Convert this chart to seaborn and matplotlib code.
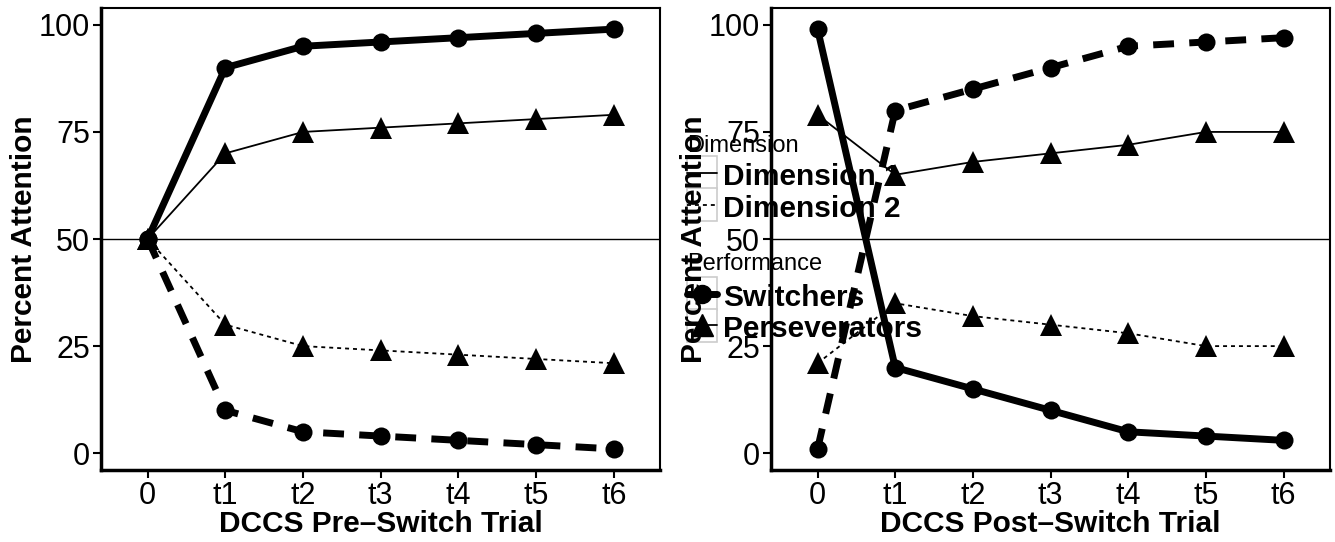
import numpy as np
import pandas as pd
import matplotlib.pyplot as plt
import seaborn as sns
from matplotlib.lines import Line2D
from matplotlib.patches import Rectangle

# data
trials = ['0', 't1', 't2', 't3', 't4', 't5', 't6']

pre_switch_d1 = [50, 90, 95, 96, 97, 98, 99]
pre_switch_d2 = [50, 10, 5, 4, 3, 2, 1]
pre_persev_d1 = [50, 70, 75, 76, 77, 78, 79]
pre_persev_d2 = [50, 30, 25, 24, 23, 22, 21]

post_switch_d1 = [99, 20, 15, 10, 5, 4, 3]
post_switch_d2 = [1, 80, 85, 90, 95, 96, 97]
post_persev_d1 = [79, 65, 68, 70, 72, 75, 75]
post_persev_d2 = [21, 35, 32, 30, 28, 25, 25]

series = {
    ('pre', 'Perseverators', 'Dimension 1'): pre_persev_d1,
    ('pre', 'Perseverators', 'Dimension 2'): pre_persev_d2,
    ('pre', 'Switchers', 'Dimension 1'): pre_switch_d1,
    ('pre', 'Switchers', 'Dimension 2'): pre_switch_d2,
    ('post', 'Perseverators', 'Dimension 1'): post_persev_d1,
    ('post', 'Perseverators', 'Dimension 2'): post_persev_d2,
    ('post', 'Switchers', 'Dimension 1'): post_switch_d1,
    ('post', 'Switchers', 'Dimension 2'): post_switch_d2,
}
rows = []
for (phase, perf, dim), vals in series.items():
    for t, v in zip(trials, vals):
        rows.append({'phase': phase, 'performance': perf, 'dimension': dim,
                     'trial': t, 'pct': v})
df = pd.DataFrame(rows)

# styles
perf_style = {
    'Switchers': dict(marker='o', markersize=13, linewidth=5),
    'Perseverators': dict(marker='^', markersize=16.5, linewidth=1.3),
}
dash_style = {
    ('Switchers', 'Dimension 1'): '-',
    ('Switchers', 'Dimension 2'): (0, (3, 2.2)),
    ('Perseverators', 'Dimension 1'): '-',
    ('Perseverators', 'Dimension 2'): (0, (2.2, 2.2)),
}

sns.set_style('white')
plt.rcParams['font.family'] = ['Liberation Sans', 'DejaVu Sans']
plt.rcParams['text.color'] = 'black'
plt.rcParams['axes.labelcolor'] = 'black'

fig = plt.figure(figsize=(13.35, 5.42), dpi=100)
ax1 = fig.add_axes([0.0757, 0.133, 0.419, 0.852])
ax2 = fig.add_axes([0.5775, 0.133, 0.419, 0.852])

for ax, phase, xlab in [(ax1, 'pre', 'DCCS Pre\u2013Switch Trial'),
                        (ax2, 'post', 'DCCS Post\u2013Switch Trial')]:
    ax.axhline(50, color='black', lw=1, zorder=1)
    sub_phase = df[df['phase'] == phase]
    for (perf, dim), sub in sub_phase.groupby(['performance', 'dimension'], sort=False):
        sns.lineplot(data=sub, x='trial', y='pct', ax=ax, color='black',
                     sort=False, errorbar=None, legend=False,
                     linestyle=dash_style[(perf, dim)],
                     markeredgecolor='black', markeredgewidth=0,
                     dash_capstyle='butt', solid_capstyle='butt',
                     **perf_style[perf])
    ax.set_xlim(-0.6, 6.6)
    ax.set_ylim(-3.9, 103.9)
    ax.set_yticks([0, 25, 50, 75, 100])
    ax.tick_params(bottom=True, left=True, direction='out', length=6, width=1.5,
                   labelsize=22, colors='black', pad=2)
    for side, sp in ax.spines.items():
        sp.set_color('black')
        sp.set_linewidth(2.5 if side in ('left', 'bottom') else 1.5)
    ax.set_xlabel(xlab, fontsize=21.5, fontweight='bold')
    ax.set_ylabel('Percent Attention', fontsize=21.5, fontweight='bold')
    ax.xaxis.label.set_va('center')
    ax.yaxis.label.set_va('center')
    ax.xaxis.set_label_coords(0.5, -0.118)
    ax.yaxis.set_label_coords(-0.138, 0.5)

ax2.patch.set_visible(False)

# legends (sit behind the right panel, as in the reference)
leg_x = 0.5146
leg_kw = dict(loc='upper left', frameon=False, prop={'weight': 'bold', 'size': 21.5},
              handlelength=1.0, handleheight=1.05, handletextpad=0.2,
              labelspacing=0.05, borderpad=0, borderaxespad=0)
dim_handles = [Line2D([], [], color='black', lw=1.3),
               Line2D([], [], color='black', lw=1.3, ls=(0, (2.2, 2.2)))]
leg1 = fig.legend(dim_handles, ['Dimension 1', 'Dimension 2'],
                  bbox_to_anchor=(leg_x, 0.703), **leg_kw)
perf_handles = [Line2D([], [], color='black', lw=5, marker='o', markersize=13),
                Line2D([], [], color='black', lw=1.3, marker='^', markersize=16.5)]
leg2 = fig.legend(perf_handles, ['Switchers', 'Perseverators'],
                  bbox_to_anchor=(leg_x, 0.4806), **leg_kw)
for leg in (leg1, leg2):
    leg.set_zorder(-1)
fig.text(leg_x, 0.7306, 'Dimension', fontsize=17, va='center', ha='left', zorder=-1)
fig.text(leg_x, 0.5129, 'Performance', fontsize=17, va='center', ha='left', zorder=-1)

# grey key boxes like ggplot
fig.canvas.draw()
renderer = fig.canvas.get_renderer()
W, H = fig.bbox.width, fig.bbox.height
for leg in (leg1, leg2):
    for h in leg.legend_handles:
        bb = h.get_window_extent(renderer)
        cx, cy = (bb.x0 + bb.x1) / 2, (bb.y0 + bb.y1) / 2
        fig.patches.append(Rectangle(((cx - 15) / W, (cy - 16.5) / H), 30 / W, 33 / H,
                                     transform=fig.transFigure, facecolor='white',
                                     edgecolor='#cccccc', lw=1.2, zorder=-2))

fig.savefig('out.png', dpi=100)
